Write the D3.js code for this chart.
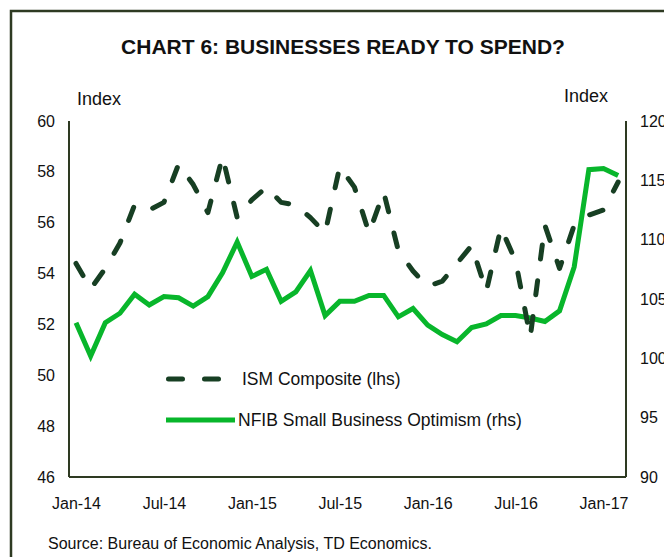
<!DOCTYPE html>
<html>
<head>
<meta charset="utf-8">
<script src="https://cdn.jsdelivr.net/npm/d3@7"></script>
<style>
  html, body { margin: 0; padding: 0; background: #ffffff; }
  svg { display: block; font-family: "Liberation Sans", Arial, sans-serif; }
</style>
</head>
<body>
<svg id="chart" width="664" height="557"></svg>
<script>
// ---- data ----
const months = ["Jan-14","Feb-14","Mar-14","Apr-14","May-14","Jun-14","Jul-14","Aug-14","Sep-14","Oct-14","Nov-14","Dec-14",
                "Jan-15","Feb-15","Mar-15","Apr-15","May-15","Jun-15","Jul-15","Aug-15","Sep-15","Oct-15","Nov-15","Dec-15",
                "Jan-16","Feb-16","Mar-16","Apr-16","May-16","Jun-16","Jul-16","Aug-16","Sep-16","Oct-16","Nov-16","Dec-16",
                "Jan-17","Feb-17"];
const ismComposite = [54.4,53.4,54.2,55.2,56.7,56.5,56.8,58.3,57.5,56.4,58.6,56.2,
                      56.9,57.4,56.8,56.7,56.2,55.6,58.2,57.4,55.6,57.2,54.9,54.1,
                      53.5,53.7,54.4,55.1,53.3,55.8,54.5,51.5,55.9,54.2,55.9,56.3,
                      56.5,57.6];
const nfibOptimism = [103.0,100.2,103.0,103.8,105.4,104.5,105.2,105.1,104.4,105.2,107.2,109.8,
                      106.9,107.5,104.8,105.6,107.4,103.6,104.8,104.8,105.3,105.3,103.5,104.2,
                      102.8,102.0,101.4,102.6,102.9,103.6,103.6,103.4,103.1,104.0,107.7,115.9,
                      116.0,115.4];
const xTickLabels = ["Jan-14","Jul-14","Jan-15","Jul-15","Jan-16","Jul-16","Jan-17"];
const leftTicks = [46,48,50,52,54,56,58,60];
const rightTicks = [90,95,100,105,110,115,120];
const seriesNames = ["ISM Composite (lhs)", "NFIB Small Business Optimism (rhs)"];
const titleText = "CHART 6: BUSINESSES READY TO SPEND?";
const sourceText = "Source: Bureau of Economic Analysis, TD Economics.";

// ---- layout ----
const svg = d3.select("#chart");
const axisColor = "#2e3a22";
const ismColor = "#173f23";
const nfibColor = "#08b62b";
const plot = {left: 69, right: 626, top: 121, bottom: 477};

const x = d3.scaleLinear().domain([0, 36]).range([76, 603.5]);
const yL = d3.scaleLinear().domain([46, 60]).range([plot.bottom, plot.top]);
const yR = d3.scaleLinear().domain([90, 120]).range([plot.bottom, plot.top]);

// frame
svg.append("rect")
  .attr("x", 11).attr("y", 11).attr("width", 700).attr("height", 600)
  .attr("fill", "none").attr("stroke", axisColor).attr("stroke-width", 2.5);

// title
svg.append("text")
  .attr("x", 343).attr("y", 54)
  .attr("text-anchor", "middle")
  .attr("font-size", 21).attr("font-weight", "bold").attr("fill", "#111")
  .text(titleText);

// axis unit labels
svg.append("text").attr("x", 77).attr("y", 105).attr("font-size", 18).attr("fill", "#111").text("Index");
svg.append("text").attr("x", 564).attr("y", 102).attr("font-size", 18).attr("fill", "#111").text("Index");

// axes built with d3 axis generators (no tick marks)
const leftAxis = d3.axisLeft(yL).tickValues(leftTicks).tickSize(0).tickPadding(14).tickFormat(d3.format("d"));
const rightAxis = d3.axisRight(yR).tickValues(rightTicks).tickSize(0).tickPadding(14).tickFormat(d3.format("d"));
const bottomAxis = d3.axisBottom(x).tickValues(d3.range(0, 37, 6)).tickSize(0).tickPadding(21)
  .tickFormat((d, i) => xTickLabels[i]);

function styleAxis(g) {
  g.select(".domain").attr("stroke", axisColor).attr("stroke-width", 2);
  g.selectAll("text").attr("font-size", 16).attr("fill", "#111")
    .attr("font-family", "'Liberation Sans', Arial, sans-serif");
}

svg.append("g").attr("transform", `translate(${plot.left},0)`).call(leftAxis).call(styleAxis)
  .select(".domain").attr("d", `M0,${plot.top}V${plot.bottom}`);
svg.append("g").attr("transform", `translate(${plot.right},0)`).call(rightAxis).call(styleAxis)
  .select(".domain").attr("d", `M0,${plot.top}V${plot.bottom}`);
const bx = svg.append("g").attr("transform", `translate(0,${plot.bottom})`).call(bottomAxis).call(styleAxis);
bx.select(".domain").attr("d", `M${plot.left},0H${plot.right}`);

// lines
const ismLine = d3.line().x((d, i) => x(i)).y(d => yL(d));
const nfibLine = d3.line().x((d, i) => x(i)).y(d => yR(d));

svg.append("path").datum(nfibOptimism)
  .attr("d", nfibLine)
  .attr("fill", "none").attr("stroke", nfibColor).attr("stroke-width", 5)
  .attr("stroke-linejoin", "miter");

svg.append("path").datum(ismComposite)
  .attr("d", ismLine)
  .attr("fill", "none").attr("stroke", ismColor).attr("stroke-width", 5)
  .attr("stroke-linecap", "round").attr("stroke-linejoin", "round")
  .attr("stroke-dasharray", "14,22");

// legend
const lg = svg.append("g");
lg.append("line").attr("x1", 168.5).attr("x2", 218.5).attr("y1", 379).attr("y2", 379)
  .attr("stroke", ismColor).attr("stroke-width", 5).attr("stroke-linecap", "round")
  .attr("stroke-dasharray", "14,22");
lg.append("text").attr("x", 242).attr("y", 379).attr("dy", "0.35em")
  .attr("font-size", 17.5).attr("fill", "#111").text(seriesNames[0]);
lg.append("line").attr("x1", 166).attr("x2", 235).attr("y1", 420).attr("y2", 420)
  .attr("stroke", nfibColor).attr("stroke-width", 5);
lg.append("text").attr("x", 238).attr("y", 420).attr("dy", "0.35em")
  .attr("font-size", 17.5).attr("fill", "#111").text(seriesNames[1]);

// source
svg.append("text").attr("x", 48).attr("y", 549).attr("font-size", 16).attr("fill", "#111").text(sourceText);
</script>
</body>
</html>
